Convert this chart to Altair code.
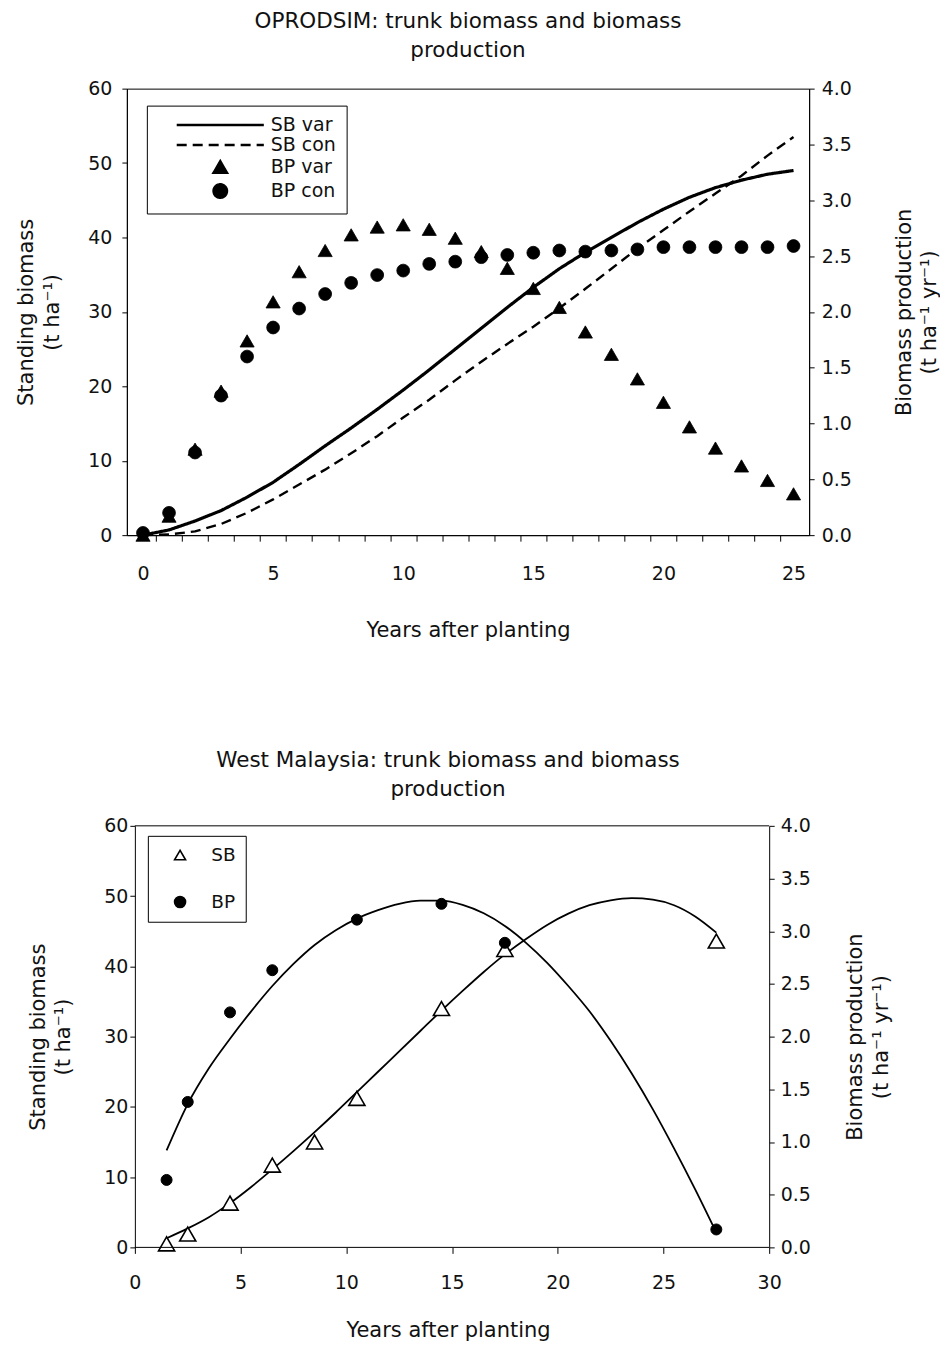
import altair as alt
import pandas as pd

# ---------------- Top panel: OPRODSIM ----------------
years = [0, 1, 2, 3, 4, 5, 6, 7, 8, 9, 10, 11, 12, 13, 14, 15, 16, 17, 18, 19, 20, 21, 22, 23, 24, 25]
sb_var = [0.0, 0.7, 1.9, 3.3, 5.1, 7.1, 9.5, 12.0, 14.4, 16.9, 19.5, 22.2, 25.0, 27.8, 30.6, 33.3,
          35.8, 38.0, 40.0, 42.0, 43.8, 45.4, 46.7, 47.7, 48.5, 49.0]
sb_con = [0.0, 0.1, 0.5, 1.5, 3.0, 4.8, 6.8, 8.8, 11.0, 13.3, 15.8, 18.2, 20.8, 23.3, 25.7, 28.0,
          30.5, 33.1, 35.8, 38.5, 41.0, 43.5, 45.9, 48.3, 51.0, 53.5]
bp_var = [0.0, 0.17, 0.77, 1.29, 1.74, 2.09, 2.36, 2.55, 2.69, 2.76, 2.78, 2.74, 2.66, 2.54, 2.39,
          2.21, 2.04, 1.82, 1.62, 1.40, 1.19, 0.97, 0.78, 0.62, 0.49, 0.37]
bp_con = [0.02, 0.20, 0.74, 1.25, 1.60, 1.86, 2.03, 2.16, 2.26, 2.33, 2.37, 2.43, 2.45, 2.49, 2.51,
          2.53, 2.55, 2.54, 2.55, 2.56, 2.58, 2.58, 2.58, 2.58, 2.58, 2.59]
top_series = ["SB var", "SB con", "BP var", "BP con"]
top_x_labels = [0, 5, 10, 15, 20, 25]
top_x_between = [0.5, 1.5, 2.5, 3.5, 4.5, 5.5, 6.5, 7.5, 8.5, 9.5, 10.5, 11.5, 12.5, 13.5, 14.5,
                 15.5, 16.5, 17.5, 18.5, 19.5, 20.5, 21.5, 22.5, 23.5, 24.5]
left_ticks = [0, 10, 20, 30, 40, 50, 60]
right_ticks = [0.0, 0.5, 1.0, 1.5, 2.0, 2.5, 3.0, 3.5, 4.0]

# ---------------- Bottom panel: West Malaysia ----------------
wm_sb_x = [1.5, 2.5, 4.5, 6.5, 8.5, 10.5, 14.5, 17.5, 27.5]
wm_sb = [0.5, 1.9, 6.3, 11.7, 15.0, 21.2, 34.0, 42.4, 43.6]
wm_bp_x = [1.5, 2.5, 4.5, 6.5, 10.5, 14.5, 17.5, 27.5]
wm_bp = [0.64, 1.38, 2.23, 2.63, 3.11, 3.26, 2.89, 0.17]
fit_x = [1.5, 2.5, 3.5, 4.5, 5.5, 6.5, 7.5, 8.5, 9.5, 10.5, 11.5, 12.5, 13.5, 14.5, 15.5, 16.5,
         17.5, 18.5, 19.5, 20.5, 21.5, 22.5, 23.5, 24.5, 25.5, 26.5, 27.5]
wm_sb_fit = [1.3, 2.7, 4.3, 6.3, 8.6, 11.1, 13.7, 16.4, 19.2, 22.1, 25.0, 27.9, 30.8, 33.7, 36.5,
             39.2, 41.7, 43.9, 45.9, 47.5, 48.7, 49.4, 49.7, 49.5, 48.7, 47.1, 44.8]
wm_bp_fit = [0.92, 1.36, 1.70, 1.98, 2.24, 2.48, 2.69, 2.87, 3.01, 3.12, 3.20, 3.26, 3.29, 3.29,
             3.25, 3.17, 3.05, 2.89, 2.70, 2.48, 2.24, 1.96, 1.65, 1.31, 0.94, 0.55, 0.14]
wm_series = ["SB", "BP"]
bot_x_labels = [0, 5, 10, 15, 20, 25, 30]

FONT = "DejaVu Sans"
INK = "#111111"
SUP = "\u207b\u00b9"
left_title = ["Standing biomass", "(t ha" + SUP + ")"]
right_title = ["Biomass production", "(t ha" + SUP + " yr" + SUP + ")"]

# ---------------- Top panel ----------------
sbv_df = pd.DataFrame({"year": years, "value": sb_var, "series": "SB var"})
sbc_df = pd.DataFrame({"year": years, "value": sb_con, "series": "SB con"})
bpv_df = pd.DataFrame({"year": years, "value": bp_var, "series": "BP var"})
bpc_df = pd.DataFrame({"year": years, "value": bp_con, "series": "BP con"})

x_top = alt.X(
    "year:Q",
    scale=alt.Scale(domain=[-0.62, 25.6], nice=False, zero=False),
    axis=alt.Axis(
        values=sorted(top_x_labels + top_x_between),
        labelExpr="datum.value % 5 === 0 ? '' + datum.value : ''",
        tickOpacity={"condition": {"test": "datum.value % 1 !== 0", "value": 1}, "value": 0},
        tickSize=6, labelPadding=23, titlePadding=36, title="Years after planting",
    ),
)
y_top_left = alt.Y(
    "value:Q", scale=alt.Scale(domain=[0, 60], nice=False),
    axis=alt.Axis(orient="left", values=left_ticks, title=left_title, labelPadding=10,
                  titlePadding=25, titleLineHeight=26),
)
y_top_right = alt.Y(
    "value:Q", scale=alt.Scale(domain=[0, 4], nice=False),
    axis=alt.Axis(orient="right", values=right_ticks, format=".1f", title=right_title,
                  titleAngle=270, titleBaseline="top", labelPadding=7, titlePadding=17,
                  titleLineHeight=25),
)

top_legend = alt.Legend(
    title=None, orient="none", legendX=20, legendY=17, direction="vertical",
    strokeColor="black", fillColor="white", padding=10, cornerRadius=0,
    labelFont=FONT, labelFontSize=19, labelColor=INK,
    symbolSize=180, symbolOffset=54, labelOffset=41, rowPadding=0,
    symbolStrokeWidth=2.5,
)
shape_enc = alt.Shape("series:N", scale=alt.Scale(domain=top_series,
                      range=["M-6.5,0H6.5", "M-6.5,0H6.5", "triangle-up", "circle"]),
                      legend=top_legend)
dash_enc = alt.StrokeDash("series:N", scale=alt.Scale(domain=top_series,
                          range=[[1, 0], [10, 6], [1, 0], [1, 0]]), legend=top_legend)

top_tri = alt.Chart(bpv_df).mark_point(filled=True, color="black", stroke="black",
                                       strokeWidth=0.8, opacity=1, size=200).encode(
    x=x_top, y=y_top_right, shape=shape_enc)
top_dot = alt.Chart(bpc_df).mark_point(filled=True, color="black", stroke="black",
                                       strokeWidth=0.8, opacity=1, size=165).encode(
    x=x_top, y=y_top_right, shape=shape_enc)
top_l1 = alt.Chart(sbv_df).mark_line(color="black", stroke="black", strokeWidth=3.2).encode(
    x=x_top, y=y_top_left, strokeDash=dash_enc)
top_l2 = alt.Chart(sbc_df).mark_line(color="black", stroke="black", strokeWidth=2.4).encode(
    x=x_top, y=y_top_left, strokeDash=dash_enc)

top = alt.layer(alt.layer(top_tri, top_dot), alt.layer(top_l1, top_l2)).resolve_scale(
    y="independent"
).properties(
    width=683, height=447,
    title=alt.TitleParams(["OPRODSIM: trunk biomass and biomass", "production"], offset=18),
)

# ---------------- Bottom panel ----------------
sb_pts_df = pd.DataFrame({"x": wm_sb_x, "v": wm_sb, "series": "SB"})
bp_pts_df = pd.DataFrame({"x": wm_bp_x, "v": wm_bp, "series": "BP"})
sb_fit_df = pd.DataFrame({"x": fit_x, "v": wm_sb_fit})
bp_fit_df = pd.DataFrame({"x": fit_x, "v": wm_bp_fit})

x_bot = alt.X(
    "x:Q", scale=alt.Scale(domain=[-0.378, 30], nice=False, zero=False),
    axis=alt.Axis(values=bot_x_labels, domain=False, tickSize=6, labelPadding=20,
                  titlePadding=27, title="Years after planting"),
)
y_bot_left = alt.Y(
    "v:Q", scale=alt.Scale(domain=[0, 60], nice=False),
    axis=alt.Axis(orient="left", values=left_ticks, title=left_title, offset=-8,
                  labelPadding=2, titlePadding=30, titleLineHeight=25),
)
y_bot_right = alt.Y(
    "v:Q", scale=alt.Scale(domain=[0, 4], nice=False),
    axis=alt.Axis(orient="right", values=right_ticks, format=".1f", title=right_title,
                  titleAngle=270, titleBaseline="top", labelPadding=6, titlePadding=8,
                  titleLineHeight=26),
)
bot_legend = alt.Legend(
    title=None, orient="none", legendX=21, legendY=10, direction="vertical",
    strokeColor="black", fillColor="white", padding=10, cornerRadius=0,
    labelFont=FONT, labelFontSize=18.5, labelColor=INK,
    symbolSize=121, symbolOffset=13, labelOffset=22, rowPadding=28,
    symbolStrokeWidth=1.6,
)
bshape = alt.Shape("series:N", scale=alt.Scale(domain=wm_series, range=["triangle-up", "circle"]),
                   legend=bot_legend)
bfill = alt.Fill("series:N", scale=alt.Scale(domain=wm_series, range=["white", "black"]),
                 legend=bot_legend)

sb_line = alt.Chart(sb_fit_df).mark_line(color="black", strokeWidth=1.8, interpolate="monotone").encode(
    x=x_bot, y=y_bot_left)
sb_pts = alt.Chart(sb_pts_df).mark_point(filled=True, stroke="black", strokeWidth=1.6,
                                         opacity=1, size=260).encode(
    x=x_bot, y=y_bot_left, shape=bshape, fill=bfill)
frame_bottom = alt.Chart(alt.Data(values=[{}])).mark_rule(color="black", strokeWidth=1).encode(
    x=alt.XDatum(0), x2=alt.X2Datum(30), y=alt.YDatum(0))
frame_top = alt.Chart(alt.Data(values=[{}])).mark_rule(color="black", strokeWidth=1).encode(
    x=alt.XDatum(0), x2=alt.X2Datum(30), y=alt.YDatum(60))

bp_line = alt.Chart(bp_fit_df).mark_line(color="black", strokeWidth=1.8, interpolate="monotone").encode(
    x=x_bot, y=y_bot_right)
bp_pts = alt.Chart(bp_pts_df).mark_point(filled=True, stroke="black", strokeWidth=1,
                                         opacity=1, size=121).encode(
    x=x_bot, y=y_bot_right, shape=bshape, fill=bfill)

bottom = alt.layer(
    alt.layer(sb_line, sb_pts, frame_bottom, frame_top),
    alt.layer(bp_line, bp_pts),
).resolve_scale(y="independent").properties(
    width=643, height=422,
    view=alt.ViewBackground(stroke="transparent"),
    title=alt.TitleParams(["West Malaysia: trunk biomass and biomass", "production"], offset=16),
)

chart = alt.vconcat(top, bottom, spacing=109).resolve_scale(
    shape="independent", strokeDash="independent", fill="independent"
).resolve_legend(
    shape="independent", strokeDash="independent", fill="independent"
).properties(
    padding={"left": 7, "top": 2, "right": 0, "bottom": 0}, background="white"
).configure_view(stroke="black", strokeWidth=1).configure_axis(
    grid=False, domainColor="black", tickColor="black", labelColor=INK, titleColor=INK,
    labelFont=FONT, titleFont=FONT, labelFontSize=19, titleFontSize=21,
    titleFontWeight="normal", labelFlush=False, labelOverlap=False, tickSize=5,
).configure_title(
    font=FONT, fontSize=21.5, fontWeight="normal", color=INK, lineHeight=29, anchor="middle",
)

chart.save("out.html", embed_options={"renderer": "svg", "actions": False})
